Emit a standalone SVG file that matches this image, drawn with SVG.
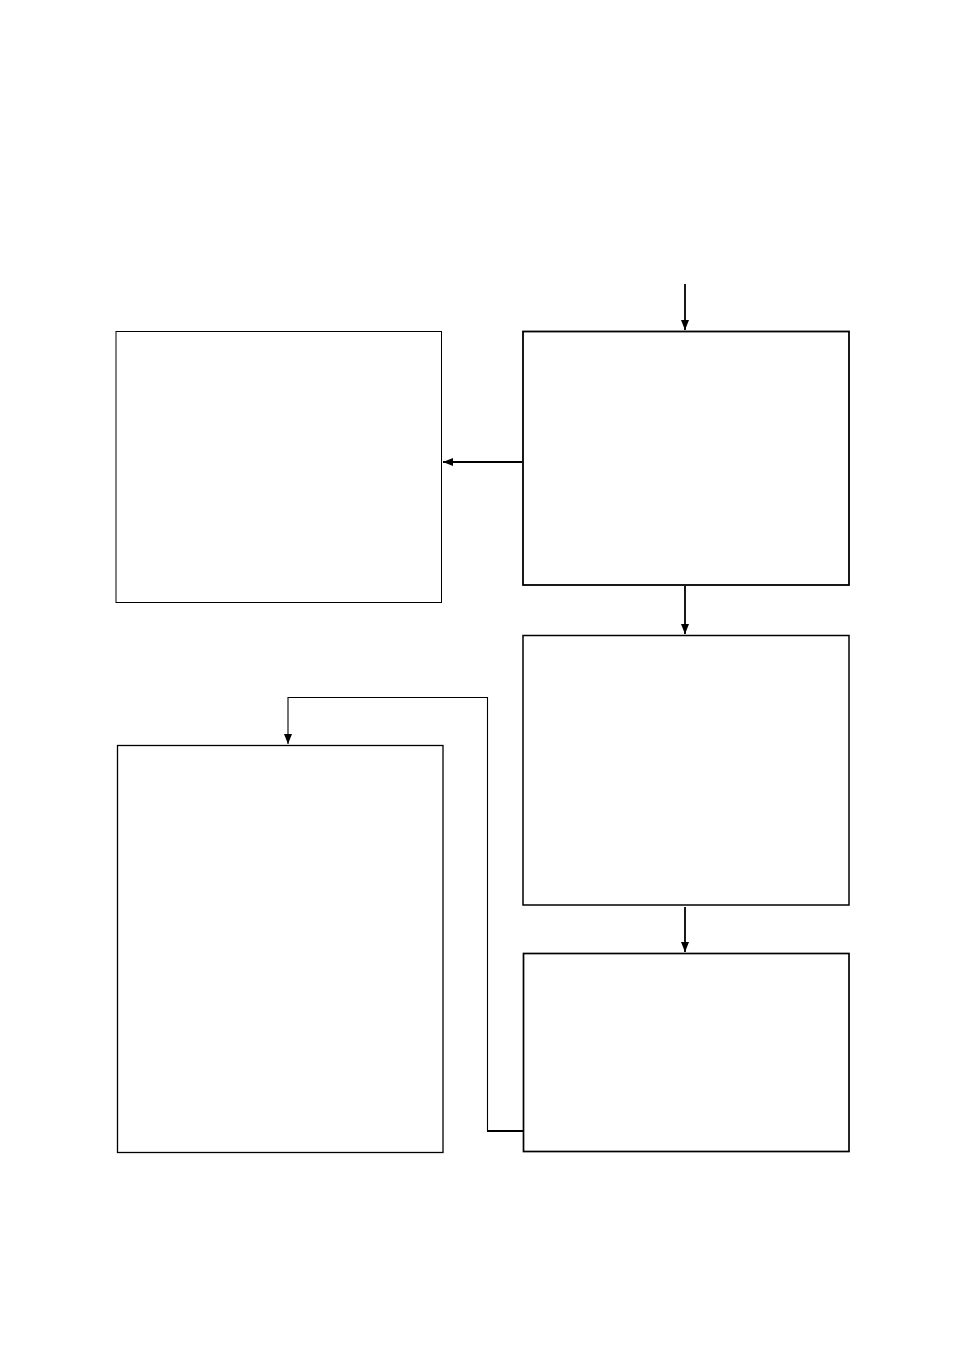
<svg xmlns="http://www.w3.org/2000/svg" width="954" height="1351" viewBox="0 0 954 1351">
<style>
.box{fill:#fff;stroke:#000}
.c{fill:none;stroke:#000}
</style>
<defs>
<marker id="ah" viewBox="0 0 10 10" refX="10" refY="5" markerWidth="10" markerHeight="10" markerUnits="userSpaceOnUse" orient="auto">
<path d="M0,1 L10,5 L0,9 Z" fill="#000"/>
</marker>
</defs>
<rect width="954" height="1351" fill="#fff"/>
<g id="nodeA"><rect class="box" x="116" y="331.5" width="325.5" height="271" stroke-width="1"/></g>
<g id="nodeB"><rect class="box" x="523" y="331.5" width="326" height="253.5" stroke-width="1.8"/></g>
<g id="nodeC"><rect class="box" x="523" y="635.5" width="326" height="269.5" stroke-width="1.5"/></g>
<g id="nodeD"><rect class="box" x="523.5" y="953.5" width="325.5" height="198" stroke-width="1.7"/></g>
<g id="nodeE"><rect class="box" x="117.5" y="745.5" width="325.5" height="407" stroke-width="1.3"/></g>
<g id="connectors">
<line class="c" x1="685" y1="284" x2="685" y2="330" stroke-width="1.8" marker-end="url(#ah)"/>
<line class="c" x1="522" y1="462" x2="443" y2="462" stroke-width="2" marker-end="url(#ah)"/>
<line class="c" x1="685" y1="586" x2="685" y2="634" stroke-width="1.8" marker-end="url(#ah)"/>
<line class="c" x1="685" y1="907" x2="685" y2="952" stroke-width="1.8" marker-end="url(#ah)"/>
<polyline class="c" points="487.5,1131 487.5,697.5 288,697.5 288,744" stroke-width="1.1" marker-end="url(#ah)"/>
<line class="c" x1="487" y1="1131" x2="523" y2="1131" stroke-width="2"/>
</g>
</svg>
